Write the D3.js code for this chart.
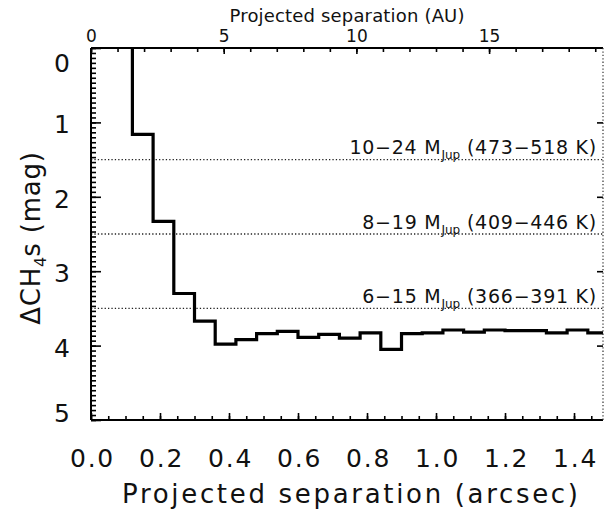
<!DOCTYPE html>
<html>
<head>
<meta charset="utf-8">
<script src="https://cdn.jsdelivr.net/npm/d3@7"></script>
<style>
  html, body { margin: 0; padding: 0; background: #fff; }
  svg { display: block; font-family: "DejaVu Sans", sans-serif; }
  text { fill: #111; }
</style>
</head>
<body>
<svg id="chart" width="604" height="515"></svg>
<script>
// Contrast curve: lower edge of each 0.06" annulus and the ΔCH4s limit reached there
const binStart = [0.12, 0.18, 0.24, 0.30, 0.36, 0.42, 0.48, 0.54, 0.60, 0.66, 0.72, 0.78,
                  0.84, 0.90, 0.96, 1.02, 1.08, 1.14, 1.20, 1.26, 1.32, 1.38, 1.44];
const deltaMag = [1.16, 2.33, 3.30, 3.67, 3.98, 3.92, 3.84, 3.81, 3.89, 3.85, 3.90, 3.83,
                  4.05, 3.84, 3.83, 3.79, 3.82, 3.79, 3.80, 3.80, 3.83, 3.79, 3.83];
const binWidth = 0.06;

// Model mass / temperature thresholds
const limitMag = [1.5, 2.5, 3.5];
const limitMass = ["10\u221224", "8\u221219", "6\u221215"];
const limitTemp = ["473\u2212518", "409\u2212446", "366\u2212391"];

// Axis ticks
const xTickLabels = [0.0, 0.2, 0.4, 0.6, 0.8, 1.0, 1.2, 1.4];
const auTickLabels = [0, 5, 10, 15];
const yTickLabels = [0, 1, 2, 3, 4, 5];
const distancePc = 13;   // AU per arcsec

const svg = d3.select("#chart");
const L = 91, R = 603, T = 48, B = 420;

const x = d3.scaleLinear().domain([0, 1.484]).range([L, R]);
const xAU = d3.scaleLinear().domain([0, 1.484 * distancePc]).range([L, R]);
const y = d3.scaleLinear().domain([0, 5]).range([T, B]);

// ---- threshold lines (dotted) ----
svg.append("g").selectAll("line").data(limitMag).join("line")
  .attr("x1", L).attr("x2", R)
  .attr("y1", d => y(d)).attr("y2", d => y(d))
  .attr("stroke", "#222").attr("stroke-width", 1.3)
  .attr("stroke-dasharray", "1.3,2.1");

const lab = svg.append("g").attr("font-size", 19).attr("letter-spacing", 0.75)
  .attr("text-anchor", "end");
limitMag.forEach((m, i) => {
  const t = lab.append("text").attr("x", 597).attr("y", y(m) - 5.5);
  t.append("tspan").text(limitMass[i] + " M");
  t.append("tspan").attr("font-size", 12).attr("dy", 5).attr("letter-spacing", 0).text("Jup");
  t.append("tspan").attr("dy", -5).text(" (" + limitTemp[i] + " K)");
});

// ---- contrast curve ----
svg.append("clipPath").attr("id", "plotclip").append("rect")
  .attr("x", L).attr("y", T).attr("width", R - L).attr("height", B - T);

const pts = [[binStart[0], y.domain()[0]]]
  .concat(binStart.map((s, i) => [s, deltaMag[i]]))
  .concat([[binStart[binStart.length - 1] + binWidth, deltaMag[deltaMag.length - 1]]]);

svg.append("path")
  .attr("clip-path", "url(#plotclip)")
  .attr("d", d3.line().x(d => x(d[0])).y(d => y(d[1])).curve(d3.curveStepAfter)(pts))
  .attr("fill", "none").attr("stroke", "#000").attr("stroke-width", 3.2)
  .attr("stroke-linejoin", "miter");

// ---- axes ----
function styleAxis(g) {
  g.select(".domain").remove();
  g.selectAll("line").attr("stroke", "#000").attr("stroke-width", 1.6);
}

// bottom: arcsec
const gB = svg.append("g").attr("transform", `translate(0,${B})`);
gB.call(d3.axisBottom(x).tickValues(d3.range(0, 1.4841, 0.05)).tickSize(-4).tickFormat(""));
gB.call(styleAxis);
const gB2 = svg.append("g").attr("transform", `translate(0,${B})`);
gB2.call(d3.axisBottom(x).tickValues(xTickLabels).tickSize(-7).tickPadding(29)
  .tickFormat(d3.format(".1f")));
gB2.call(styleAxis);
gB2.selectAll("text").attr("font-size", 25).attr("font-family", "DejaVu Sans")
  .attr("fill", "#111").attr("letter-spacing", 1.8).attr("dx", 1);

// top: AU
const gT = svg.append("g").attr("transform", `translate(0,${T})`);
gT.call(d3.axisTop(xAU).tickValues(d3.range(0, 19.3, 1)).tickSize(-4).tickFormat(""));
gT.call(styleAxis);
const gT2 = svg.append("g").attr("transform", `translate(0,${T})`);
gT2.call(d3.axisTop(xAU).tickValues(auTickLabels).tickSize(-6).tickPadding(6)
  .tickFormat(d3.format("d")));
gT2.call(styleAxis);
gT2.selectAll("text").attr("font-size", 17).attr("font-family", "DejaVu Sans").attr("fill", "#111");

// left: ΔCH4s
const gL = svg.append("g").attr("transform", `translate(${L},0)`);
gL.call(d3.axisLeft(y).tickValues(d3.range(0, 5.001, 1 / 15)).tickSize(-5).tickFormat(""));
gL.call(styleAxis);
const gL2 = svg.append("g").attr("transform", `translate(${L},0)`);
gL2.call(d3.axisLeft(y).tickValues(yTickLabels).tickSize(-10).tickPadding(21)
  .tickFormat(d3.format("d")));
gL2.call(styleAxis);
gL2.selectAll("text").attr("font-size", 25).attr("font-family", "DejaVu Sans").attr("fill", "#111")
  .attr("dy", d => d === 0 ? "0.95em" : d === 5 ? "0.05em" : "0.42em");

// right: major ticks only
const gR = svg.append("g").attr("transform", `translate(${R},0)`);
gR.call(d3.axisRight(y).tickValues([1, 2, 3, 4]).tickSize(-6).tickFormat(""));
gR.call(styleAxis);

// frame
svg.append("line").attr("x1", L).attr("x2", R).attr("y1", B).attr("y2", B)
  .attr("stroke", "#000").attr("stroke-width", 2);
svg.append("line").attr("x1", L).attr("x2", R).attr("y1", T).attr("y2", T)
  .attr("stroke", "#000").attr("stroke-width", 2);
svg.append("line").attr("x1", L).attr("x2", L).attr("y1", T).attr("y2", B)
  .attr("stroke", "#000").attr("stroke-width", 2);
svg.append("line").attr("x1", R).attr("x2", R).attr("y1", T).attr("y2", B)
  .attr("stroke", "#333").attr("stroke-width", 1.2).attr("stroke-dasharray", "1.3,2.1");

// axis titles
svg.append("text").attr("x", (L + R) / 2 + 3).attr("y", 503).attr("text-anchor", "middle")
  .attr("font-size", 26).attr("textLength", 456).attr("lengthAdjust", "spacing")
  .text("Projected separation (arcsec)");
svg.append("text").attr("x", (L + R) / 2).attr("y", 22).attr("text-anchor", "middle")
  .attr("font-size", 18).attr("textLength", 235).attr("lengthAdjust", "spacing")
  .text("Projected separation (AU)");

const yt = svg.append("text").attr("transform", `translate(40,${238}) rotate(-90)`)
  .attr("text-anchor", "middle").attr("font-size", 26).attr("letter-spacing", 0.8);
yt.append("tspan").text("\u0394CH");
yt.append("tspan").attr("font-size", 16).attr("dy", 6).attr("letter-spacing", 0).text("4");
yt.append("tspan").attr("dy", -6).text("s (mag)");
</script>
</body>
</html>
